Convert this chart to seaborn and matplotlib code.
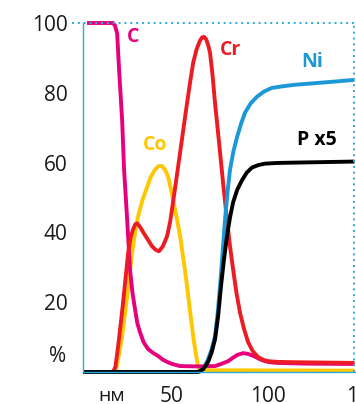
import numpy as np
import pandas as pd
import seaborn as sns
import matplotlib.pyplot as plt

# depth (nm) / content (%)
c_x = [5.7, 19.3, 20.3, 21.4, 22.4, 24.0, 25.0, 26.6, 28.1, 29.3, 30.7, 31.9, 33.3,
       35.2, 37.5, 40.0, 42.7, 45.0, 47.4, 50.0, 54.2, 63.0, 72.4, 75.0, 77.0,
       79.2, 81.5, 84.0, 87.0, 89.5, 91.5, 93.2, 96.0, 98.4, 101.0, 105.0, 120.0, 145.0]
c_y = [100, 100, 99.2, 97, 86.6, 72, 58, 43.7, 29.4, 23, 18, 14, 11.4,
       8.5, 6.6, 5.5, 4.6, 3.6, 2.9, 2.3, 1.7, 1.6, 1.7, 2.2, 2.6,
       3.1, 4.0, 4.9, 5.4, 5.2, 4.8, 4.4, 3.6, 3.1, 2.8, 2.6, 2.4, 2.3]

cr_x = [3.6, 19.3, 20.5, 21.9, 23.2, 24.5, 25.8, 27.1, 28.4, 29.7, 30.8, 31.8, 33.3,
        35.0, 37.3, 39.6, 41.5, 43.2, 45.2, 47.4, 49.0, 50.5, 52.3, 54.2, 56.0,
        57.8, 59.4, 61.0, 62.8, 64.6, 65.7, 66.7, 67.8, 69.0, 69.8, 71.1, 72.4,
        73.7, 75.0, 76.8, 78.6, 80.2, 81.8, 83.6, 85.4, 87.5, 89.6, 92.0, 94.8,
        97.5, 100.0, 105.0, 114.0, 145.0]
cr_y = [0, 0, 1.5, 7.4, 13.5, 20, 27, 34, 38.5, 40.9, 42.3, 42.6, 41.6,
        40, 38, 36, 35, 34.6, 36, 38.9, 43, 48.6, 55.5, 62.9, 70,
        77, 83, 88.6, 92.5, 95, 95.9, 96, 95.3, 93.3, 91.4, 85, 77,
        70, 62.9, 53, 43.7, 36, 29.4, 22.5, 17, 12.3, 8.6, 6, 4.3,
        3.5, 3.1, 2.9, 2.8, 2.6]

co_x = [3.6, 20.3, 21.5, 22.7, 24.0, 25.3, 26.6, 27.9, 29.2, 30.7, 32.3, 34.6, 37.0,
        39.0, 41.1, 43.0, 44.8, 46.4, 47.9, 49.2, 50.5, 52.4, 54.2, 56.0, 57.8,
        59.4, 61.0, 62.3, 63.5, 64.6, 145.0]
co_y = [0, 0, 2.5, 6, 10.3, 16, 21.7, 28, 34.3, 39.7, 44.6, 49.3, 53,
        56, 58, 59, 59, 57.9, 56, 53, 49.4, 44.3, 38.9, 32, 24.6,
        17.3, 10.3, 5.5, 1.7, 0.5, 0.4]

ni_x = [3.6, 64.0, 66.5, 68.8, 70.6, 72.4, 73.7, 75.0, 76.3, 77.6, 78.9, 80.2, 82.0,
        83.9, 86.0, 88.0, 91.0, 94.3, 98.0, 102.0, 108.0, 114.0, 130.0, 145.0]
ni_y = [0, 0, 1.0, 3.7, 6.5, 10.3, 16.5, 24.6, 34, 43.7, 51.5, 58, 63.3,
        67.4, 71.2, 74.3, 77, 78.9, 80.4, 81.4, 81.9, 82.3, 83, 83.7]

p_x = [3.6, 63.5, 66.2, 68.8, 70.6, 72.4, 74.0, 75.5, 77.0, 78.6, 80.2, 81.8, 84.0,
       86.5, 89.0, 91.7, 95.0, 98.4, 105.0, 114.0, 145.0]
p_y = [0, 0, 0.8, 2.9, 5.6, 9.4, 16, 24.6, 32, 38.9, 44.3, 48.6, 52.3,
       55, 57.2, 58.6, 59.3, 59.7, 59.9, 60, 60.3]

series = [
    ("Co", co_x, co_y, "#ffc700"),
    ("C", c_x, c_y, "#e6007e"),
    ("Cr", cr_x, cr_y, "#ec1c24"),
    ("Ni", ni_x, ni_y, "#1b98d5"),
    ("P x5", p_x, p_y, "#000000"),
]

sns.set_style("white")
plt.rcParams['font.family'] = ['Open Sans', 'DejaVu Sans']

blue = "#29abe2"
fig = plt.figure(figsize=(3.56, 4.04), dpi=100)
ax = fig.add_axes([83/356, 32/404, 281/356, 349/404])

for name, xs, ys, col in series:
    df = pd.DataFrame({"x": xs, "y": ys})
    sns.lineplot(data=df, x="x", y="y", color=col, lw=2.8, sort=False,
                 estimator=None, ax=ax, clip_on=False,
                 solid_capstyle="butt", solid_joinstyle="round")

ax.set_xlim(3.6, 150)
ax.set_ylim(0, 100)
ax.set_xticks([50, 100, 150])
ax.set_yticks([20, 40, 60, 80, 100])
ax.set_xlabel("")
ax.set_ylabel("")

for s in ["top", "right"]:
    ax.spines[s].set_visible(False)
for s in ["left", "bottom"]:
    ax.spines[s].set_color(blue)
    ax.spines[s].set_linewidth(1.0)
ax.tick_params(axis="both", length=7, width=1.0, color=blue,
               labelsize=15, labelcolor="#1a1a1a")
ax.tick_params(axis="y", pad=4)
ax.tick_params(axis="x", pad=3)
ax.yaxis.get_major_ticks()[-1].tick1line.set_visible(False)

# dotted frame at top and right
ax.plot([-2, 144.8], [100, 100], ls=(0, (1, 2)), lw=1.4, color=blue, clip_on=False)
ax.plot([144.8, 144.8], [0, 100], ls=(0, (1, 2)), lw=1.4, color=blue, clip_on=False)

labels = {"C": (29.7, 96), "Co": (41.1, 65), "Cr": (80.2, 92.3),
          "Ni": (122.9, 88.9), "P x5": (125.5, 66.6)}
for name, xs, ys, col in series:
    lx, ly = labels[name]
    ax.text(lx, ly, name, color=col, fontsize=14, fontweight="bold",
            ha="center", va="center")

fig.text(58/356, 1 - 357/404, "%", fontsize=15, color="#1a1a1a",
         ha="center", va="center")
fig.text(112/356, 1 - 396/404, "нм", fontsize=14, color="#1a1a1a",
         ha="center", va="center")

fig.savefig("out.png", dpi=100, facecolor="white")
